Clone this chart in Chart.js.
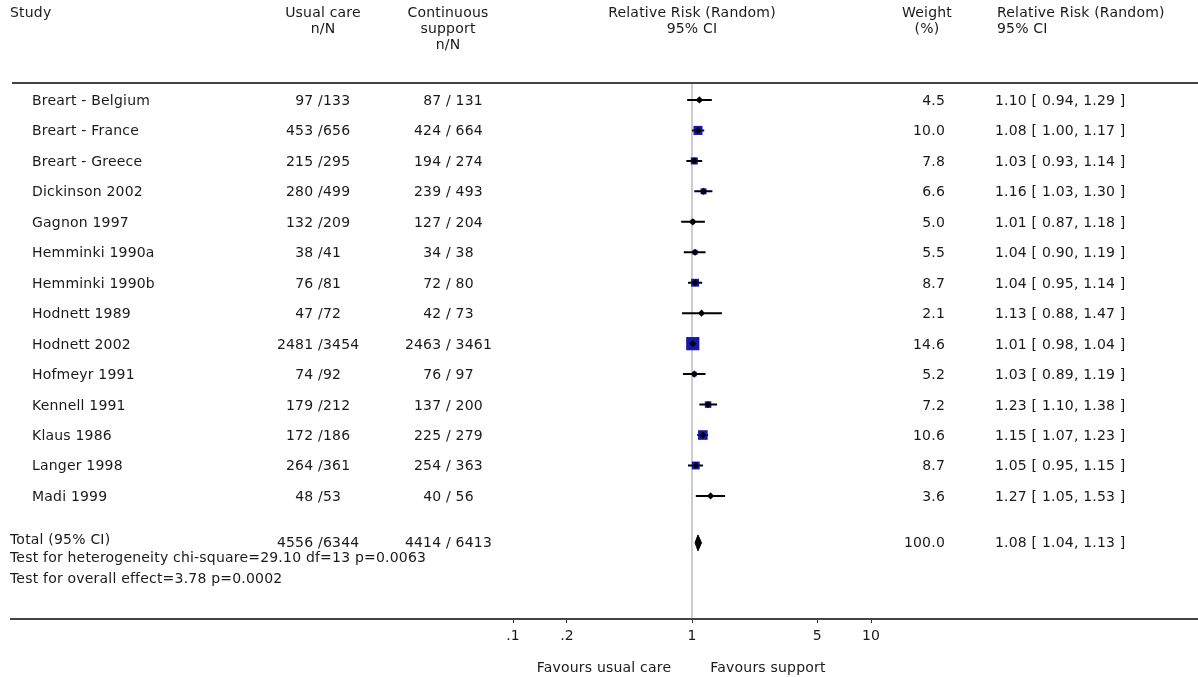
<!DOCTYPE html>
<html>
<head>
<meta charset="utf-8">
<script src="https://cdn.jsdelivr.net/npm/chart.js@4.4.1/dist/chart.umd.min.js"></script>
<style>
  html, body { margin: 0; padding: 0; background: #fff; }
  #wrap { position: relative; width: 1198px; height: 677px; overflow: hidden; }
  #plot { position: absolute; left: 0; top: 0; }
  .t { position: absolute; font-family: "DejaVu Sans", sans-serif; font-size: 14px;
       letter-spacing: 0.2px; line-height: 16px; color: #1a1a1a; white-space: pre; }
  .hline { position: absolute; height: 2px; background: #444; }
</style>
</head>
<body>
<div id="wrap">
  <canvas id="plot" width="1198" height="677"></canvas>
</div>
<script>
const studies = ['Breart - Belgium', 'Breart - France', 'Breart - Greece', 'Dickinson 2002',
  'Gagnon 1997', 'Hemminki 1990a', 'Hemminki 1990b', 'Hodnett 1989', 'Hodnett 2002',
  'Hofmeyr 1991', 'Kennell 1991', 'Klaus 1986', 'Langer 1998', 'Madi 1999'];
const careN = [97, 453, 215, 280, 132, 38, 76, 47, 2481, 74, 179, 172, 264, 48];
const careTotal = [133, 656, 295, 499, 209, 41, 81, 72, 3454, 92, 212, 186, 361, 53];
const supportN = [87, 424, 194, 239, 127, 34, 72, 42, 2463, 76, 137, 225, 254, 40];
const supportTotal = [131, 664, 274, 493, 204, 38, 80, 73, 3461, 97, 200, 279, 363, 56];
const weights = [4.5, 10.0, 7.8, 6.6, 5.0, 5.5, 8.7, 2.1, 14.6, 5.2, 7.2, 10.6, 8.7, 3.6];
const rr = [1.10, 1.08, 1.03, 1.16, 1.01, 1.04, 1.04, 1.13, 1.01, 1.03, 1.23, 1.15, 1.05, 1.27];
const rrLow = [0.94, 1.00, 0.93, 1.03, 0.87, 0.90, 0.95, 0.88, 0.98, 0.89, 1.10, 1.07, 0.95, 1.05];
const rrHigh = [1.29, 1.17, 1.14, 1.30, 1.18, 1.19, 1.14, 1.47, 1.04, 1.19, 1.38, 1.23, 1.15, 1.53];

const totalCare = [4556, 6344];
const totalSupport = [4414, 6413];
const totalWeight = 100.0;
const totalRR = [1.08, 1.04, 1.13];
const heterogeneityText = 'Test for heterogeneity chi-square=29.10 df=13 p=0.0063';
const overallText = 'Test for overall effect=3.78 p=0.0002';

const tickValues = [0.1, 0.2, 1, 5, 10];
const tickLabels = ['.1', '.2', '1', '5', '10'];

// row positions in y units (row index), total sits a bit lower
const yMin = -0.59, yMax = 17.04, totalRow = 14.54;

const wrap = document.getElementById('wrap');
function put(text, x, y, align) {
  const d = document.createElement('div');
  d.className = 't';
  d.textContent = text;
  d.style.top = (y - 8) + 'px';
  if (align === 'right') { d.style.left = (x - 300) + 'px'; d.style.width = '300px'; d.style.textAlign = 'right'; }
  else if (align === 'center') { d.style.left = (x - 150) + 'px'; d.style.width = '300px'; d.style.textAlign = 'center'; }
  else d.style.left = x + 'px';
  wrap.appendChild(d);
}
function hline(x1, x2, y) {
  const d = document.createElement('div');
  d.className = 'hline';
  d.style.left = x1 + 'px'; d.style.width = (x2 - x1) + 'px'; d.style.top = (y - 1) + 'px';
  wrap.appendChild(d);
}

// CI segments separated by gaps
const ciData = [];
studies.forEach((s, i) => {
  ciData.push({ x: rrLow[i], y: i }, { x: rrHigh[i], y: i }, { x: null, y: null });
});
const pointData = studies.map((s, i) => ({ x: rr[i], y: i }));
const h = 0.26;
const totalShape = [
  { x: totalRR[1], y: totalRow }, { x: totalRR[0], y: totalRow - h },
  { x: totalRR[2], y: totalRow }, { x: totalRR[0], y: totalRow + h },
  { x: totalRR[1], y: totalRow }
];

const chart = new Chart(document.getElementById('plot'), {
  type: 'scatter',
  data: {
    datasets: [
      { data: [{ x: 1, y: yMin }, { x: 1, y: yMax }], showLine: true, borderColor: '#bcbcc8',
        borderWidth: 1.5, pointRadius: 0, order: 5 },
      { data: ciData, showLine: true, spanGaps: false, borderColor: '#000', borderWidth: 2,
        pointRadius: 0, order: 4 },
      { data: pointData, pointStyle: 'rect', backgroundColor: '#1616b0', borderColor: '#1616b0',
        borderWidth: 0, pointRadius: weights.map(w => w * 0.64), order: 3 },
      { data: pointData, pointStyle: 'rectRot', backgroundColor: '#000', borderColor: '#000',
        borderWidth: 0, pointRadius: 3.6, order: 2 },
      { data: totalShape, showLine: true, fill: 'shape', backgroundColor: '#000', borderColor: '#000',
        borderWidth: 1, pointRadius: 0, order: 1 }
    ]
  },
  options: {
    responsive: false,
    animation: false,
    events: [],
    layout: { padding: { left: 513, right: 327, top: 82, bottom: 28 } },
    plugins: { legend: { display: false }, tooltip: { enabled: false } },
    scales: {
      x: {
        type: 'logarithmic',
        min: 0.1,
        max: 10,
        afterBuildTicks: (scale) => { scale.ticks = tickValues.map(v => ({ value: v })); },
        afterFit: (scale) => { scale.height = 30; },
        border: { display: false },
        grid: { drawOnChartArea: false, drawTicks: true, tickLength: 4, color: '#333' },
        ticks: {
          autoSkip: false, maxRotation: 0, padding: 5, color: '#1a1a1a',
          font: { family: "'DejaVu Sans', sans-serif", size: 14 },
          callback: (v) => { const k = tickValues.indexOf(v); return k >= 0 ? tickLabels[k] : ''; }
        }
      },
      y: { type: 'linear', reverse: true, min: yMin, max: yMax, display: false }
    }
  }
});

const ys = chart.scales.y;
const py = v => ys.getPixelForValue(v);

// header
put('Study', 10, 12);
put('Usual care', 323, 12, 'center'); put('n/N', 323, 28, 'center');
put('Continuous', 448, 12, 'center'); put('support', 448, 28, 'center'); put('n/N', 448, 44, 'center');
put('Relative Risk (Random)', 692, 12, 'center'); put('95% CI', 692, 28, 'center');
put('Weight', 927, 12, 'center'); put('(%)', 927, 28, 'center');
put('Relative Risk (Random)', 997, 12); put('95% CI', 997, 28);

hline(12, 1198, 83);
hline(10, 1198, 619);

studies.forEach((s, i) => {
  const y = py(i);
  put(s, 32, y);
  put(careN[i] + ' ', 318, y, 'right'); put('/' + careTotal[i], 318, y);
  put(supportN[i] + ' ', 446, y, 'right'); put('/ ' + supportTotal[i], 446, y);
  put(weights[i].toFixed(1), 945, y, 'right');
  put(rr[i].toFixed(2) + ' [ ' + rrLow[i].toFixed(2) + ', ' + rrHigh[i].toFixed(2) + ' ]', 995, y);
});

const ty = 542;
put('Total (95% CI)', 10, ty - 3);
put(totalCare[0] + ' ', 318, ty, 'right'); put('/' + totalCare[1], 318, ty);
put(totalSupport[0] + ' ', 446, ty, 'right'); put('/ ' + totalSupport[1], 446, ty);
put(totalWeight.toFixed(1), 945, ty, 'right');
put(totalRR[0].toFixed(2) + ' [ ' + totalRR[1].toFixed(2) + ', ' + totalRR[2].toFixed(2) + ' ]', 995, ty);
put(heterogeneityText, 10, 557);
put(overallText, 10, 578);

put('Favours usual care', 604, 667, 'center');
put('Favours support', 768, 667, 'center');
</script>
</body>
</html>
